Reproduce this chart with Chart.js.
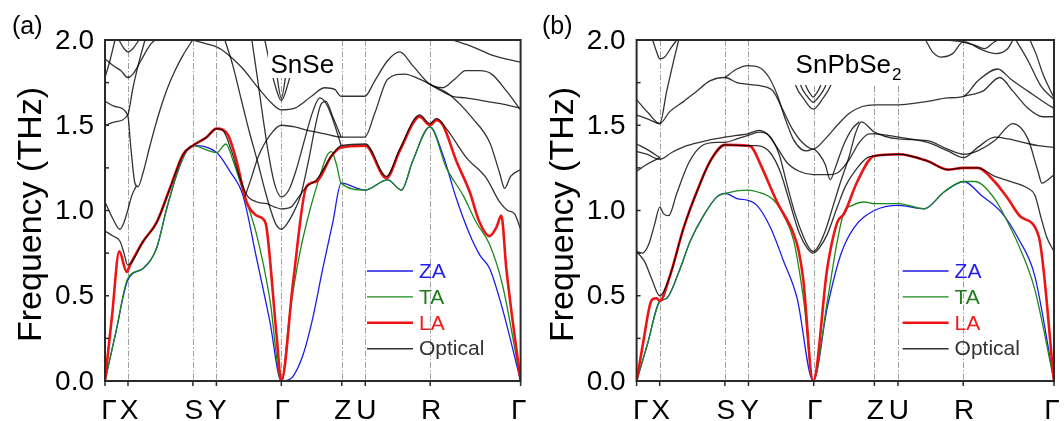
<!DOCTYPE html>
<html>
<head>
<meta charset="utf-8">
<script src="https://cdn.jsdelivr.net/npm/chart.js@4.4.0/dist/chart.umd.min.js"></script>
<style>
  body { margin: 0; background: #fff; width: 1064px; height: 421px; overflow: hidden; position: relative; }
  canvas { position: absolute; top: 0; }
  #chartA { left: 0; }
  #chartB { left: 532px; }
</style>
</head>
<body>
<canvas id="chartA" width="532" height="421"></canvas>
<canvas id="chartB" width="532" height="421"></canvas>
<script>
// high symmetry path (k-distance along the path) and tick labels
const kNodes = [0, 23, 88, 111.5, 176.5, 237, 260.5, 325.5, 416];
const kLabels = ['Γ', 'X', 'S', 'Y', 'Γ', 'Z', 'U', 'R', 'Γ'];
const freqTicks = [0, 0.5, 1.0, 1.5, 2.0];
const legendNames = ['ZA', 'TA', 'LA', 'Optical'];

// ---- (a) SnSe : [k, THz] ----
const snseZA = [[0,0],[11,0.29],[22.7,0.59],[38,0.66],[51.7,0.78],[61.7,1.01],[71.7,1.21],[81.7,1.35],[87.7,1.38],[111.7,1.34],[125,1.23],[138,1.09],[151.7,0.72],[165,0.35],[176.5,0],[185,0.01],[198,0.15],[208,0.37],[218,0.66],[228,0.93],[236.4,1.16],[260,1.12],[283,1.18],[296.7,1.12],[308,1.29],[325.3,1.49],[338,1.33],[351.7,1.07],[365,0.86],[375,0.74],[385,0.66],[398,0.42],[416,0]];
const snseTA = [[0,0],[11,0.29],[22.7,0.60],[38.3,0.66],[51.7,0.78],[61.7,1.01],[71.7,1.21],[81.7,1.35],[87.7,1.38],[111.7,1.34],[121,1.39],[128.3,1.29],[138.3,1.11],[151.7,0.86],[165,0.48],[176.5,0],[185,0.40],[195,0.75],[205,1.00],[215,1.20],[222,1.32],[226.7,1.345],[231.7,1.27],[236.4,1.16],[260,1.12],[283,1.18],[296.7,1.12],[308,1.29],[325.3,1.49],[341.7,1.25],[358.3,1.09],[371.7,0.93],[385,0.80],[398,0.56],[416,0]];
const snseLA = [[0,0],[7,0.38],[14.3,0.76],[21.7,0.64],[25,0.68],[38.3,0.82],[51.7,0.93],[65,1.13],[78.3,1.33],[87.7,1.38],[101.7,1.43],[111.7,1.48],[123.3,1.44],[131.7,1.29],[141.7,1.05],[151.7,0.97],[158.3,0.95],[161.7,0.90],[171.7,0.27],[176.5,0],[188.3,0.58],[201.7,1.14],[211.7,1.17],[226.7,1.32],[236.4,1.37],[260.7,1.38],[281.7,1.19],[295,1.35],[315,1.55],[325.3,1.50],[331.7,1.53],[338.3,1.50],[351.7,1.29],[365,1.11],[375,0.93],[385,0.85],[391.7,0.90],[396.7,0.97],[401.7,0.66],[416,0]];
const snseOptical = [
  [[0,0.88],[8,0.85],[15,0.82],[19,0.75],[22.7,0.68],[38.3,0.82],[51.7,0.93],[65,1.13],[78.3,1.33],[87.7,1.38],[101.7,1.43],[111.7,1.48],[118,1.47],[126,1.36],[134,1.21],[142,1.09],[152,1.05],[162,1.04],[170,1.02],[176.5,1.01],[186,1.02],[194,1.08],[201.7,1.14],[211.7,1.18],[226.7,1.32],[236.4,1.38],[260.7,1.39],[281.7,1.20],[295,1.36],[315,1.56],[325.3,1.51],[331.7,1.54],[341.7,1.48],[361.7,1.31],[381.7,1.19],[395,1.05],[403,1.00],[410,0.98],[416,0.89]],
  [[0,1.05],[8,0.95],[15,0.89],[19,0.93],[22.7,1.00],[27,1.09],[31,1.14]],
  [[0,1.64],[10,1.61],[22.7,1.56],[26,1.36],[30,1.16],[33,1.14],[38,1.22],[45,1.38],[53,1.55],[62,1.71],[70,1.82],[78,1.91],[87.7,2.0]],
  [[0,1.50],[10,1.52],[22.7,1.56],[28,1.72],[34,1.87],[40,2.0]],
  [[0,1.89],[8,1.85],[16,1.82],[22.7,1.78],[28,1.80],[36,1.88],[45,1.97],[50,2.0]],
  [[0,1.78],[5,1.88],[10,2.0]],
  [[14,2.0],[19,1.95],[23,1.93],[28,1.95],[34,2.0]],
  [[87.7,2.0],[100,1.98],[111.7,1.96],[120,1.93],[136.7,1.84],[153.3,1.72],[166.7,1.63],[176.5,1.59],[190,1.60],[206.7,1.67],[220,1.72],[230,1.71],[236.4,1.67],[260,1.67],[270,1.76],[283,1.88],[295,1.93],[308,1.85],[325.3,1.74],[338,1.72],[350,1.77],[361,1.82],[375,1.82],[387,1.80],[402,1.70],[416,1.59]],
  [[140,1.08],[147,1.20],[153,1.31],[165,1.44],[176.5,1.50],[190,1.49],[203,1.47],[220,1.45],[236.4,1.43],[260,1.43],[270,1.57],[283,1.77],[300,1.80],[315,1.77],[325.3,1.74],[334,1.71],[348,1.67],[361,1.66],[382,1.64],[402,1.62],[416,1.60]],
  [[120,2.0],[128,1.85],[136,1.66],[145,1.45],[153,1.28],[160,1.12],[166,1.00],[171,0.92],[176.5,0.89],[182,0.92],[188,0.98],[196,1.09],[204,1.30],[210,1.48],[216,1.62],[221,1.64],[228,1.55],[236.4,1.43]],
  [[147,2.0],[152,1.80],[158,1.55],[164,1.32],[170,1.15],[176.5,1.08],[184,1.12],[192,1.25],[200,1.42],[208,1.58],[215,1.66],[222,1.62],[230,1.50],[236.4,1.38]],
  [[160,2.0],[165,1.86],[170,1.74],[176.5,1.645],[183,1.74],[188,1.86],[193,2.0]],
  [[167,2.0],[171,1.84],[176.5,1.66],[182,1.84],[186,2.0]],
  [[325.3,1.74],[344.6,1.68],[368,1.54],[385,1.40],[395,1.22],[400,1.13],[406,1.20],[416,1.24]],
  [[348,2.0],[368,1.96],[388,1.91],[416,1.87]]
];

// ---- (b) SnPbSe2 : [k, THz] ----
const snpbZA = [[0,0],[11,0.22],[22.7,0.465],[30,0.485],[43.4,0.66],[53.4,0.82],[66.7,0.97],[80,1.08],[88.2,1.10],[100,1.07],[111,1.06],[120,1.03],[133.4,0.90],[146.7,0.70],[160,0.485],[176,0],[190,0.43],[203.4,0.74],[216.7,0.90],[237,1.00],[261,1.03],[286.7,1.01],[306.7,1.11],[326,1.17],[343.4,1.09],[363.4,0.99],[380,0.84],[396.7,0.62],[416,0]];
const snpbTA = [[0,0],[11,0.22],[23.1,0.465],[30,0.485],[43.4,0.66],[53.4,0.82],[66.7,0.97],[80,1.08],[88.2,1.10],[111,1.12],[120,1.11],[136.7,1.06],[146.7,0.97],[156.7,0.82],[166.7,0.465],[176,0],[190,0.465],[200,0.82],[206.7,0.99],[215,1.03],[226.7,1.05],[237,1.04],[261,1.04],[286.7,1.01],[306.7,1.11],[326,1.17],[336.7,1.17],[356.7,1.07],[370,0.93],[383.4,0.76],[396.7,0.54],[416,0]];
const snpbLA = [[0,0],[7,0.24],[13,0.44],[16,0.48],[20,0.485],[23.1,0.47],[33.4,0.62],[46.7,0.895],[60,1.11],[73.4,1.29],[88.2,1.385],[111,1.38],[115,1.37],[125,1.25],[140,1.05],[156.7,0.86],[161.7,0.76],[166,0.6],[176,0],[190,0.66],[200,0.93],[206.7,0.98],[220,1.17],[236.7,1.32],[261,1.33],[290,1.29],[310,1.24],[326,1.25],[340,1.25],[356.7,1.17],[370,1.07],[383.4,0.96],[400.7,0.85],[416,0]];
const snpbOptical = [
  [[0,0.76],[8,0.70],[15,0.60],[23.1,0.50],[33.4,0.62],[46.7,0.895],[60,1.11],[73.4,1.29],[88.2,1.385],[111,1.38],[120,1.38],[133,1.34],[143,1.23],[152,1.06],[162,0.87],[170,0.78],[176,0.75],[182,0.78],[190,0.86],[200,1.02],[208,1.14],[220,1.25],[230,1.31],[237,1.32],[261,1.33],[290,1.29],[310,1.24],[326,1.25],[340,1.25],[357,1.20],[373,1.17],[390,1.13],[397,1.09],[403,0.96],[409,0.84],[416,0.76]],
  [[0,0.76],[6,0.75],[12,0.80],[18,0.92],[23.1,1.02],[27,0.98],[32,0.97],[40,1.10],[52,1.28],[65,1.38],[80,1.40],[88.2,1.40],[100,1.42],[111,1.44],[122,1.46],[132,1.44],[142,1.33],[150,1.15],[158,0.98],[166,0.85],[172,0.78],[176,0.76],[180,0.78],[188,0.88],[196,1.03],[204,1.18],[212,1.32],[218,1.45],[224,1.52],[237,1.46],[261,1.42],[290,1.41],[310,1.36],[326,1.33],[340,1.35],[357,1.41],[375,1.51],[390,1.42],[400,1.23],[404,1.16],[410,1.18],[416,1.21]],
  [[0,1.345],[10,1.33],[23.1,1.30],[35,1.34],[50,1.38],[70,1.41],[88.2,1.43],[100,1.44],[111,1.45],[122,1.47],[130,1.45],[140,1.37],[150,1.28],[162,1.23],[176,1.21],[190,1.21],[200,1.22],[212,1.30],[222,1.40],[232,1.45],[237,1.45],[261,1.43],[290,1.40],[310,1.35],[326,1.31],[340,1.37],[357,1.43],[370,1.42],[385,1.40],[400,1.38],[416,1.37]],
  [[0,1.65],[12,1.57],[23.1,1.51],[33,1.58],[47,1.64],[60,1.70],[73,1.76],[88.2,1.78],[100,1.75],[111,1.74],[125,1.73],[136,1.70],[145,1.60],[155,1.48],[165,1.40],[176,1.36],[188,1.42],[200,1.50],[212,1.57],[225,1.61],[237,1.62],[261,1.62],[290,1.64],[310,1.66],[326,1.67],[340,1.76],[360,1.83],[373,1.77],[390,1.70],[410,1.62],[416,1.60]],
  [[88.2,1.78],[100,1.83],[111,1.85],[122,1.84],[132,1.78],[140,1.68],[148,1.54],[156,1.42],[164,1.36],[170,1.35],[176,1.36],[182,1.33],[188,1.27],[193,1.18],[198,1.25],[206,1.38],[215,1.48],[222,1.52]],
  [[0,1.56],[12,1.535],[23.1,1.51],[30,1.70],[37,1.88],[42,2.0]],
  [[16,2.0],[20,1.93],[23.1,1.89],[28,1.90],[35,1.96],[40,2.0]],
  [[0,1.39],[10,1.36],[23.1,1.31]],
  [[0,1.23],[10,1.27],[23.1,1.31]],
  [[157.5,1.76],[159,1.727],[166,1.66],[176,1.595],[186,1.66],[193,1.727],[195,1.76]],
  [[162,1.77],[164,1.727],[170,1.67],[176,1.635],[182,1.67],[188,1.727],[190,1.77]],
  [[167,1.77],[169,1.727],[173,1.685],[176,1.665],[179,1.685],[183,1.727],[185,1.77]],
  [[310,2.0],[323,1.99],[336.7,1.97],[346.7,1.95],[356.7,1.99],[360,2.0]],
  [[288,2.0],[295,1.93],[303,1.90],[315,1.92],[325.8,1.99],[345,1.94],[358,1.92],[370,1.95],[375,2.0]],
  [[378,2.0],[390,1.88],[403,1.73],[416,1.65]],
  [[392,2.0],[398,1.92],[405,1.80],[416,1.66]],
  [[326,1.67],[345,1.70],[362,1.78],[375,1.70],[390,1.60],[405,1.55],[416,1.55]]
];

const FONT = '"Liberation Sans", Arial, sans-serif';
const BLUE = '#1c1ce8', GREEN = '#1b8a1b', RED = '#ee1414', OPT = 'rgba(0,0,0,0.8)';

function branch(points, color, width) {
  return {
    data: points.map(p => ({ x: p[0], y: p[1] })),
    borderColor: color,
    borderWidth: width,
    pointRadius: 0,
    fill: false,
    cubicInterpolationMode: 'monotone',
    clip: 0
  };
}

function makeDecor(cfg) {
  return {
    id: 'decor',
    beforeDatasetsDraw(chart) {
      const { ctx, chartArea: a, scales: { x } } = chart;
      ctx.save();
      ctx.strokeStyle = '#a0a0a0';
      ctx.lineWidth = 1;
      ctx.setLineDash([6, 2, 1.5, 2]);
      kNodes.slice(1, -1).forEach(k => {
        const px = Math.round(x.getPixelForValue(k)) + 0.5;
        ctx.beginPath();
        ctx.moveTo(px, a.top);
        ctx.lineTo(px, a.bottom);
        ctx.stroke();
      });
      ctx.restore();
    },
    afterDatasetsDraw(chart) {
      const { ctx, chartArea: a, scales: { x, y } } = chart;
      ctx.save();

      // compound name with white box behind it
      ctx.fillStyle = '#fff';
      ctx.fillRect(a.left + cfg.boxX, a.top + 1, cfg.boxW, cfg.boxH);
      ctx.fillStyle = '#000';
      ctx.font = '26px ' + FONT;
      ctx.textAlign = 'left';
      ctx.textBaseline = 'alphabetic';
      ctx.fillText(cfg.name, a.left + cfg.nameX, 73);
      if (cfg.sub) {
        const w = ctx.measureText(cfg.name).width;
        ctx.font = '17px ' + FONT;
        ctx.fillText(cfg.sub, a.left + cfg.nameX + w + 1, 80);
      }

      // frame
      ctx.strokeStyle = '#2a2a2a';
      ctx.lineWidth = 2;
      ctx.strokeRect(a.left, a.top, a.right - a.left, a.bottom - a.top);

      // ticks
      ctx.lineWidth = 1.5;
      for (let v = 0.25; v < 2; v += 0.25) {
        const py = y.getPixelForValue(v);
        ctx.beginPath();
        ctx.moveTo(a.left, py);
        ctx.lineTo(a.left + 4, py);
        ctx.stroke();
      }
      kNodes.forEach(k => {
        const px = x.getPixelForValue(k);
        ctx.beginPath();
        ctx.moveTo(px, a.bottom);
        ctx.lineTo(px, a.bottom + 5);
        ctx.stroke();
      });

      // tick labels
      ctx.fillStyle = '#000';
      ctx.font = '28px ' + FONT;
      ctx.textAlign = 'right';
      ctx.textBaseline = 'middle';
      freqTicks.forEach(v => ctx.fillText(v.toFixed(1), a.left - 11, y.getPixelForValue(v) + 1));
      ctx.textAlign = 'center';
      ctx.textBaseline = 'alphabetic';
      kNodes.forEach((k, i) => {
        const shift = i === 0 ? 4 : (i === kNodes.length - 1 ? -2 : 1);
        ctx.fillText(kLabels[i], x.getPixelForValue(k) + shift, a.bottom + 38);
      });

      // axis title
      ctx.save();
      ctx.translate(a.left - 64, (a.top + a.bottom) / 2 + 4);
      ctx.rotate(-Math.PI / 2);
      ctx.font = '34px ' + FONT;
      ctx.textAlign = 'center';
      ctx.fillText('Frequency (THz)', 0, 0);
      ctx.restore();

      // panel tag
      ctx.font = '25px ' + FONT;
      ctx.textAlign = 'left';
      ctx.fillText(cfg.tag, cfg.tagX, 34);

      // legend
      const cols = [BLUE, GREEN, RED, '#333'];
      const textCols = ['#1f1ff0', '#1d7d1d', '#f01c1c', '#333'];
      const widths = [1.4, 1.4, 2.6, 1.4];
      ctx.font = '21px ' + FONT;
      ctx.textBaseline = 'middle';
      legendNames.forEach((n, i) => {
        const ly = a.top + 231 + i * 25.9;
        ctx.strokeStyle = cols[i];
        ctx.lineWidth = widths[i];
        ctx.beginPath();
        ctx.moveTo(a.left + cfg.legX, ly);
        ctx.lineTo(a.left + cfg.legX + 46, ly);
        ctx.stroke();
        ctx.fillStyle = textCols[i];
        ctx.fillText(n, a.left + cfg.legX + 52, ly + 1);
      });
      ctx.restore();
    }
  };
}

function makePanel(id, za, ta, la, optical, cfg) {
  const datasets = [
    ...optical.map(b => branch(b, OPT, 1.3)),
    branch(la, RED, 2.6),
    branch(ta, GREEN, 1.3),
    branch(za, BLUE, 1.3)
  ];
  return new Chart(document.getElementById(id), {
    type: 'line',
    data: { datasets },
    plugins: [makeDecor(cfg)],
    options: {
      responsive: false,
      animation: false,
      events: [],
      layout: { padding: cfg.pad },
      scales: {
        x: { type: 'linear', min: kNodes[0], max: kNodes[kNodes.length - 1], display: false },
        y: { type: 'linear', min: 0, max: 2, display: false }
      },
      plugins: { legend: { display: false }, tooltip: { enabled: false } }
    }
  });
}

makePanel('chartA', snseZA, snseTA, snseLA, snseOptical, {
  pad: { left: 105, right: 11.4, top: 40, bottom: 40 },
  name: 'SnSe', sub: '', nameX: 165.5, boxX: 163, boxW: 70, boxH: 37,
  tag: '(a)', tagX: 12, legX: 262
});
makePanel('chartB', snpbZA, snpbTA, snpbLA, snpbOptical, {
  pad: { left: 104.6, right: 10, top: 40, bottom: 40 },
  name: 'SnPbSe', sub: '2', nameX: 159, boxX: 156.4, boxW: 112, boxH: 44,
  tag: '(b)', tagX: 10, legX: 266
});
</script>
</body>
</html>
